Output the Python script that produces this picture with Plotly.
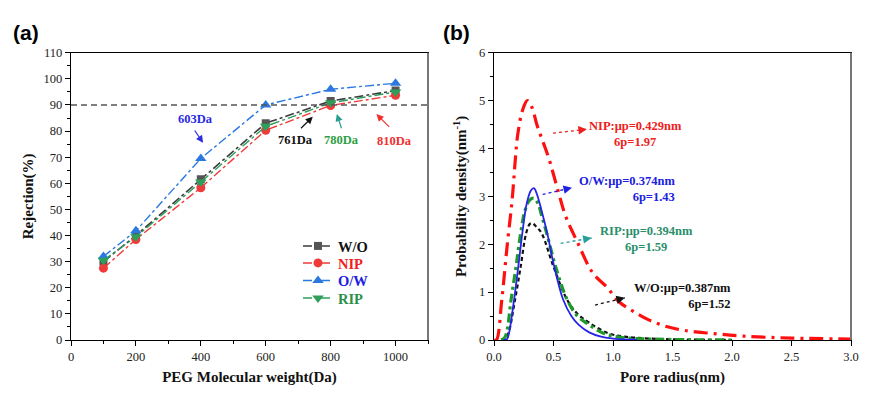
import plotly.graph_objects as go

# ---------------- data: panel (a) ----------------
peg_mw = [100, 200, 400, 600, 800, 1000]
rej_wo = [30.0, 40.0, 61.5, 83.0, 91.5, 95.5]
rej_nip = [27.5, 38.5, 58.3, 80.3, 89.8, 93.7]
rej_ow = [32.0, 41.8, 69.5, 90.0, 96.0, 98.3]
rej_rip = [30.5, 39.5, 60.5, 81.8, 90.8, 95.0]
mwco_level = 90

# ---------------- data: panel (b) ----------------
nip_r = [0.0, 0.02, 0.065, 0.107, 0.155, 0.18, 0.2, 0.24, 0.28, 0.32, 0.36, 0.41, 0.46, 0.54, 0.6,
         0.7, 0.83, 0.95, 1.05, 1.17, 1.3, 1.45, 1.6, 1.82, 2.1, 2.5, 3.0]
nip_p = [0.0, 0.0, 0.83, 1.88, 3.0, 3.8, 4.3, 4.8, 5.0, 4.85, 4.5, 4.15, 3.8, 3.1, 2.6,
         2.05, 1.4, 1.1, 0.8, 0.6, 0.42, 0.28, 0.2, 0.14, 0.08, 0.04, 0.02]

ow_r = [0.08, 0.11, 0.126, 0.168, 0.204, 0.238, 0.275, 0.31, 0.335, 0.36, 0.40, 0.45, 0.50, 0.58,
        0.65, 0.71, 0.8, 0.9, 1.0, 1.1, 1.2]
ow_p = [0.0, 0.02, 0.14, 0.83, 1.53, 2.23, 2.85, 3.12, 3.17, 3.05, 2.7, 2.2, 1.6, 0.85,
        0.5, 0.32, 0.16, 0.07, 0.03, 0.01, 0.0]

rip_r = [0.06, 0.09, 0.11, 0.143, 0.185, 0.224, 0.26, 0.30, 0.335, 0.37, 0.40, 0.443, 0.518, 0.616,
         0.7, 0.78, 0.92, 1.05, 1.2, 1.5, 2.0]
rip_p = [0.0, 0.05, 0.2, 0.83, 1.53, 2.23, 2.7, 2.92, 2.96, 2.85, 2.6, 2.23, 1.53, 0.835,
         0.5, 0.35, 0.14, 0.06, 0.03, 0.01, 0.0]

wo_r = [0.06, 0.09, 0.12, 0.176, 0.224, 0.27, 0.30, 0.32, 0.35, 0.4, 0.5, 0.616, 0.7, 0.807, 0.96,
        1.1, 1.3, 1.6, 2.0]
wo_p = [0.0, 0.03, 0.14, 0.83, 1.53, 2.23, 2.42, 2.44, 2.38, 2.23, 1.53, 0.835, 0.55, 0.35, 0.14,
        0.07, 0.03, 0.01, 0.0]

# page geometry: the page body adds an 8px offset, so the figure is sized to fit the window
W, H, OFF = 878, 395, 8
FW, FH = W - OFF, H - OFF


def px(p):
    return (p - OFF) / FW


def py(p):
    return 1 - (p - OFF) / FH


SERIF = "Liberation Serif"
C_WO, C_NIP, C_OW, C_RIP = "#3c3c3c", "#f03a3a", "#2a78e0", "#2e9e5a"

fig = go.Figure()

# ---- panel (a) traces (each with its own legend so rows can be placed precisely) ----
series_a = [
    ("W/O", "#111111", rej_wo, C_WO, 1.6, "square", 8, "#555555", "legend"),
    ("NIP", "#f02020", rej_nip, C_NIP, 1.4, "circle", 9, C_NIP, "legend2"),
    ("O/W", "#2020e0", rej_ow, C_OW, 1.4, "triangle-up", 10, C_OW, "legend3"),
    ("RIP", "#2a8f4a", rej_rip, C_RIP, 1.4, "triangle-down", 10, C_RIP, "legend4"),
]
for name, tcol, vals, lcol, lw, sym, ms, mcol, lg in series_a:
    fig.add_trace(go.Scatter(x=peg_mw, y=vals, mode="lines+markers", xaxis="x", yaxis="y",
                             name="<b><span style='color:%s'>%s</span></b>" % (tcol, name), legend=lg,
                             line=dict(color=lcol, width=lw, dash="dashdot"),
                             marker=dict(symbol=sym, size=ms, color=mcol)))

# ---- panel (b) traces ----
fig.add_trace(go.Scatter(x=nip_r, y=nip_p, mode="lines", xaxis="x2", yaxis="y2", showlegend=False,
                         line=dict(color="#ff1010", width=3.2, dash="14px,6px,3px,6px", shape="spline")))
fig.add_trace(go.Scatter(x=wo_r, y=wo_p, mode="lines", xaxis="x2", yaxis="y2", showlegend=False,
                         line=dict(color="#111111", width=2.2, dash="4px,3px", shape="spline")))
fig.add_trace(go.Scatter(x=rip_r, y=rip_p, mode="lines", xaxis="x2", yaxis="y2", showlegend=False,
                         line=dict(color="#1e9a2a", width=3.2, dash="9px,4px,3px,4px", shape="spline")))
fig.add_trace(go.Scatter(x=ow_r, y=ow_p, mode="lines", xaxis="x2", yaxis="y2", showlegend=False,
                         line=dict(color="#2525e8", width=1.8, shape="spline")))

ann = []
shapes = []

# horizontal 90% line
shapes.append(dict(type="line", xref="x domain", yref="y", x0=0, x1=1, y0=mwco_level, y1=mwco_level,
                   line=dict(color="#555555", width=1.4, dash="6px,4px")))

# panel (a) labels with arrows: (text, text colour, arrow colour, text_x, text_y, tail_x, tail_y, head_x, head_y)
a_labels = [
    ("603Da", "#2a2ae0", "#2a2ae0", 384, 84.7, 378, 80.8, 407, 75.5),
    ("761Da", "#111111", "#111111", 693, 76.6, 704, 80.5, 745, 85.5),
    ("780Da", "#2e9e44", "#2a9d8f", 833, 76.6, 835, 80.5, 819, 86.5),
    ("810Da", "#f03030", "#f03030", 998, 76.2, 985, 81.0, 941, 86.5),
]
for t, tc, ac, tx, ty, x0, y0, x1, y1 in a_labels:
    ann.append(dict(xref="x", yref="y", x=tx, y=ty, text="<b>" + t + "</b>", showarrow=False,
                    font=dict(family=SERIF, size=12.5, color=tc)))
    ann.append(dict(xref="x", yref="y", axref="x", ayref="y", x=x1, y=y1, ax=x0, ay=y0, text="",
                    showarrow=True, arrowhead=2, arrowsize=1.2, arrowwidth=1.2, arrowcolor=ac))

# panel (b) labels: (text, colour, align, text_x, text_y, tail, head)
b_labels = [
    ("NIP:μp=0.429nm<br>6p=1.97", "#f02020", "center", 1.19, 4.30, (0.496, 4.32), (0.78, 4.40)),
    ("O/W:μp=0.374nm<br>6p=1.43", "#2020e0", "right", 1.12, 3.16, (0.409, 3.04), (0.655, 3.18)),
    ("RIP:μp=0.394nm<br>6p=1.59", "#2a8f6a", "center", 1.28, 2.10, (0.56, 2.02), (0.82, 2.13)),
    ("W/O:μp=0.387nm<br>6p=1.52", "#111111", "right", 1.58, 0.91, (0.849, 0.73), (1.10, 0.88)),
]
arrow_cols = ["#f02020", "#2020e0", "#2a9d9d", "#111111"]
for (t, c, al, tx, ty, tail, head), acol in zip(b_labels, arrow_cols):
    ann.append(dict(xref="x2", yref="y2", x=tx, y=ty, text="<b>" + t + "</b>", showarrow=False,
                    align=al, font=dict(family=SERIF, size=12.5, color=c)))
    shapes.append(dict(type="line", xref="x2", yref="y2", x0=tail[0], y0=tail[1], x1=head[0], y1=head[1],
                       line=dict(color=acol, width=1.3, dash="dot")))
    dx = head[0] - tail[0]
    dy = head[1] - tail[1]
    ann.append(dict(xref="x2", yref="y2", axref="x2", ayref="y2", x=head[0], y=head[1],
                    ax=head[0] - dx * 0.15, ay=head[1] - dy * 0.15, text="", showarrow=True,
                    arrowhead=2, arrowsize=1.3, arrowwidth=1.3, arrowcolor=acol))

# panel titles
for lbl, cx in (("(a)", 26), ("(b)", 457)):
    ann.append(dict(xref="paper", yref="paper", x=px(cx), y=py(33), xanchor="center", yanchor="middle",
                    text="<b>%s</b>" % lbl, showarrow=False,
                    font=dict(family="Liberation Sans", size=21, color="black")))

# right border lines (grey)
for xr, yr in (("x domain", "y domain"), ("x2 domain", "y2 domain")):
    shapes.append(dict(type="line", xref=xr, yref=yr, x0=1, x1=1, y0=0, y1=1,
                       line=dict(color="#777777", width=2)))

tickfont = dict(family=SERIF, size=12.5, color="#222222")
titlefont = dict(family=SERIF, size=15, color="#111111")

ydom = [py(340), py(52.7)]
common_axis = dict(showgrid=False, zeroline=False, showline=True, linecolor="black", linewidth=1.3,
                   mirror=True, ticks="outside", ticklen=5, tickwidth=1.2, tickcolor="black",
                   tickfont=tickfont, automargin=False)

legend_rows = [246, 263, 280.5, 298]
legend_common = dict(xanchor="left", yanchor="middle", bgcolor="rgba(0,0,0,0)",
                     font=dict(family=SERIF, size=14.5, color="black"), itemwidth=30)
legends = {}
for key, row in zip(["legend", "legend2", "legend3", "legend4"], legend_rows):
    legends[key] = dict(x=px(298), y=py(row), **legend_common)

fig.update_layout(
    template="none",
    width=FW, height=FH,
    margin=dict(l=0, r=0, t=0, b=0, autoexpand=False),
    paper_bgcolor="white", plot_bgcolor="white",
    font=dict(family=SERIF),
    xaxis=dict(domain=[px(71), px(428)], range=[0, 1100], tickvals=[0, 200, 400, 600, 800, 1000],
               minor=dict(dtick=100, ticks="outside", ticklen=3, tickcolor="black"),
               title=dict(text="<b>PEG Molecular weight(Da)</b>", font=titlefont, standoff=8),
               anchor="y", **common_axis),
    yaxis=dict(domain=ydom, range=[0, 110], dtick=10,
               minor=dict(dtick=5, ticks="outside", ticklen=3, tickcolor="black"),
               title=dict(text="<b>Rejection(%)</b>", font=titlefont, standoff=6),
               anchor="x", **common_axis),
    xaxis2=dict(domain=[px(494), px(851)], range=[0, 3], dtick=0.5, tickformat=".1f",
                title=dict(text="<b>Pore radius(nm)</b>", font=titlefont, standoff=8),
                anchor="y2", **common_axis),
    yaxis2=dict(domain=ydom, range=[0, 6], dtick=1,
                minor=dict(dtick=0.5, ticks="outside", ticklen=3, tickcolor="black"),
                title=dict(text="<b>Probability density(nm<sup>-1</sup>)</b>", font=titlefont, standoff=8),
                anchor="x2", **common_axis),
    annotations=ann,
    shapes=shapes,
    **legends,
)

fig.write_html("out.html")
